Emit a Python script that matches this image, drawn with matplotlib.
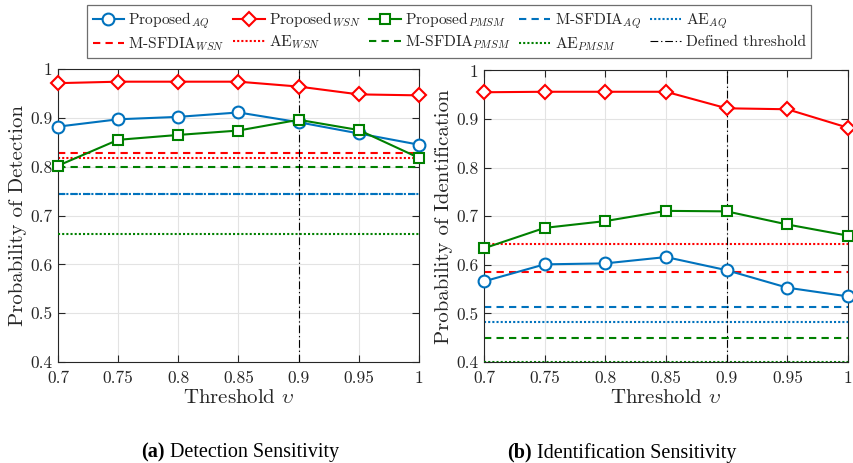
import matplotlib
matplotlib.use("Agg")
import matplotlib.pyplot as plt

plt.rcParams["font.family"] = ["cmr10", "DejaVu Serif"]
plt.rcParams["mathtext.fontset"] = "cm"
plt.rcParams["axes.formatter.use_mathtext"] = True

# Threshold sweep
thresholds = [0.7, 0.75, 0.8, 0.85, 0.9, 0.95, 1.0]
x_ticks = [0.7, 0.75, 0.8, 0.85, 0.9, 0.95, 1.0]
x_ticklabels = ["0.7", "0.75", "0.8", "0.85", "0.9", "0.95", "1"]
y_ticks = [0.4, 0.5, 0.6, 0.7, 0.8, 0.9, 1.0]
y_ticklabels = ["0.4", "0.5", "0.6", "0.7", "0.8", "0.9", "1"]
defined_threshold = 0.9

# (a) Probability of detection
det_aq = [0.882, 0.897, 0.902, 0.911, 0.891, 0.868, 0.845]
det_wsn = [0.971, 0.974, 0.974, 0.974, 0.964, 0.948, 0.946]
det_pmsm = [0.802, 0.855, 0.865, 0.874, 0.896, 0.875, 0.818]
det_msfdia_aq, det_msfdia_wsn, det_msfdia_pmsm = 0.744, 0.827, 0.800
det_ae_aq, det_ae_wsn, det_ae_pmsm = 0.744, 0.818, 0.662

# (b) Probability of identification
idn_aq = [0.566, 0.601, 0.603, 0.616, 0.589, 0.553, 0.535]
idn_wsn = [0.955, 0.956, 0.956, 0.956, 0.922, 0.920, 0.882]
idn_pmsm = [0.634, 0.676, 0.690, 0.711, 0.710, 0.683, 0.660]
idn_msfdia_aq, idn_msfdia_wsn, idn_msfdia_pmsm = 0.513, 0.585, 0.449
idn_ae_aq, idn_ae_wsn, idn_ae_pmsm = 0.482, 0.643, 0.401

C_AQ = "#0072BD"
C_WSN = "#FF0000"
C_PMSM = "#008000"
TXT = "#262626"

fig = plt.figure(figsize=(8.54, 4.63), dpi=100)
ax_a = fig.add_axes([0.0679, 0.218, 0.4227, 0.633])
ax_b = fig.add_axes([0.5667, 0.218, 0.4263, 0.630])

DASH = (3.5, 2.5)
DOT = (1.0, 1.0)


def draw(ax, aq, wsn, pmsm, ms_aq, ms_wsn, ms_pmsm, ae_aq, ae_wsn, ae_pmsm, ylabel):
    h = {}
    h["p_aq"], = ax.plot(thresholds, aq, color=C_AQ, lw=1.5, marker="o", ms=8.5,
                         mfc="white", mew=1.5, label=r"Proposed$_{AQ}$", zorder=5,
                         clip_on=False)
    h["p_wsn"], = ax.plot(thresholds, wsn, color=C_WSN, lw=1.5, marker="D", ms=7.5,
                          mfc="white", mew=1.5, label=r"Proposed$_{WSN}$", zorder=5,
                          clip_on=False)
    h["p_pmsm"], = ax.plot(thresholds, pmsm, color=C_PMSM, lw=1.5, marker="s", ms=7,
                           mfc="white", mew=1.5, label=r"Proposed$_{PMSM}$", zorder=5,
                           clip_on=False)
    h["m_aq"] = ax.axhline(ms_aq, color=C_AQ, lw=1.5, dashes=DASH, label=r"M-SFDIA$_{AQ}$")
    h["a_aq"] = ax.axhline(ae_aq, color=C_AQ, lw=1.5, dashes=DOT, label=r"AE$_{AQ}$")
    h["m_wsn"] = ax.axhline(ms_wsn, color=C_WSN, lw=1.5, dashes=DASH, label=r"M-SFDIA$_{WSN}$")
    h["a_wsn"] = ax.axhline(ae_wsn, color=C_WSN, lw=1.5, dashes=DOT, label=r"AE$_{WSN}$")
    h["m_pmsm"] = ax.axhline(ms_pmsm, color=C_PMSM, lw=1.5, dashes=DASH, label=r"M-SFDIA$_{PMSM}$")
    h["a_pmsm"] = ax.axhline(ae_pmsm, color=C_PMSM, lw=1.5, dashes=DOT, label=r"AE$_{PMSM}$",
                             zorder=3)
    h["thr"] = ax.axvline(defined_threshold, color="black", lw=0.8,
                          dashes=(7, 2.5, 1.2, 2.5), label="Defined threshold", zorder=4)

    ax.set_xlim(0.7, 1.0)
    ax.set_ylim(0.4, 1.0)
    ax.set_xticks(x_ticks)
    ax.set_xticklabels(x_ticklabels)
    ax.set_yticks(y_ticks)
    ax.set_yticklabels(y_ticklabels)
    ax.grid(True, color="#e3e3e3", lw=0.8)
    ax.set_axisbelow(True)
    ax.tick_params(direction="in", top=True, right=True, length=5, width=0.8,
                   labelsize=12.5, colors=TXT)
    ax.tick_params(axis="x", pad=6)
    ax.tick_params(axis="y", pad=4)
    for s in ax.spines.values():
        s.set_color(TXT)
        s.set_linewidth(0.8)
    ax.set_xlabel(r"Threshold $\upsilon$", fontsize=15, color=TXT, labelpad=2)
    ax.set_ylabel(ylabel, fontsize=15, color=TXT, labelpad=2)
    return h


h = draw(ax_a, det_aq, det_wsn, det_pmsm, det_msfdia_aq, det_msfdia_wsn, det_msfdia_pmsm,
         det_ae_aq, det_ae_wsn, det_ae_pmsm, "Probability of Detection")
draw(ax_b, idn_aq, idn_wsn, idn_pmsm, idn_msfdia_aq, idn_msfdia_wsn, idn_msfdia_pmsm,
     idn_ae_aq, idn_ae_wsn, idn_ae_pmsm, "Probability of Identification")

# Legend laid out row by row (matplotlib fills columns first)
row1 = ["p_aq", "p_wsn", "p_pmsm", "m_aq", "a_aq"]
row2 = ["m_wsn", "a_wsn", "m_pmsm", "a_pmsm", "thr"]
order = [k for pair in zip(row1, row2) for k in pair]
handles = [h[k] for k in order]
leg = fig.legend(handles, [hh.get_label() for hh in handles], ncol=5,
                 loc="upper center", bbox_to_anchor=(0.526, 0.99), borderaxespad=0,
                 fontsize=11.2, frameon=True, fancybox=False, edgecolor="#6e6e6e",
                 framealpha=1, handlelength=2.0, handletextpad=0.3, columnspacing=0.55,
                 borderpad=0.35, labelspacing=0.3)
leg.get_frame().set_linewidth(0.9)
for t in leg.get_texts():
    t.set_color(TXT)

# Sub-figure captions
fig.canvas.draw()
renderer = fig.canvas.get_renderer()


def caption(xc, tag, text):
    kw = dict(fontsize=14.5, family="Liberation Serif", va="center", color="black")
    a = fig.text(0, 0.022, tag, fontweight="bold", **kw)
    b = fig.text(0, 0.022, " " + text, **kw)
    wa = a.get_window_extent(renderer).width
    wb = b.get_window_extent(renderer).width
    x0 = xc * fig.bbox.width - (wa + wb) / 2
    a.set_x(x0 / fig.bbox.width)
    b.set_x((x0 + wa) / fig.bbox.width)


caption(0.281, "(a)", "Detection Sensitivity")
caption(0.728, "(b)", "Identification Sensitivity")

fig.savefig("out.png", dpi=100)
